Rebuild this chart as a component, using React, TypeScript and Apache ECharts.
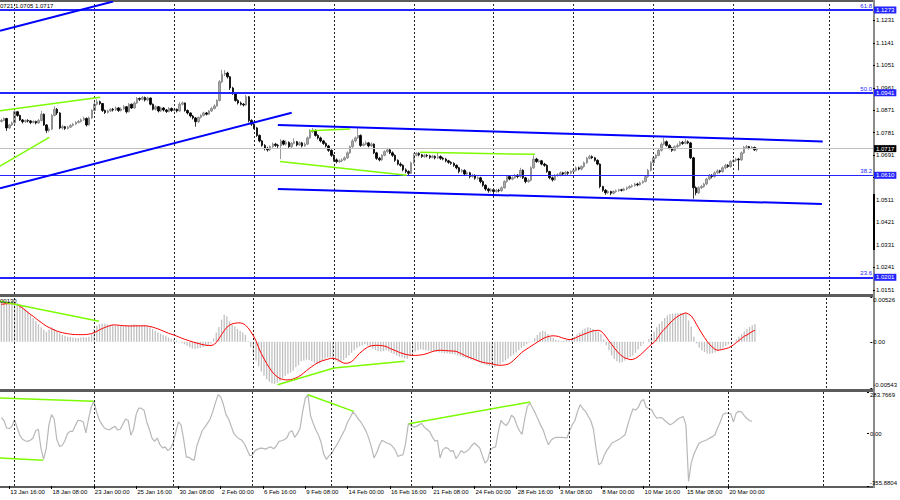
import React, { useEffect, useRef } from "react";
import * as echarts from "echarts";

// ---------- time axis (H4 bars) ----------
const FIRST_BAR_UTC = Date.UTC(2023, 0, 13, 4, 0);
const BAR_HOURS = 4;
const CATEGORY_COUNT = 328;
const timeTickLabels = [
  "13 Jan 16:00", "18 Jan 08:00", "23 Jan 00:00", "25 Jan 16:00", "30 Jan 08:00",
  "2 Feb 00:00", "6 Feb 16:00", "9 Feb 08:00", "14 Feb 00:00", "16 Feb 16:00",
  "21 Feb 08:00", "24 Feb 00:00", "28 Feb 16:00", "3 Mar 08:00", "8 Mar 00:00",
  "10 Mar 16:00", "15 Mar 08:00", "20 Mar 00:00",
];
const gridLineBars = [5, 35, 65, 95, 125, 155, 185, 215, 245, 275, 311];

// ---------- price, pips above 1.0000 ----------
const firstOpenPips = 826;
const closePips = [
  830, 838, 800, 812, 820, 865, 850, 832, 825, 830,
  828, 822, 826, 820, 830, 855, 812, 790, 795, 850,
  875, 860, 800, 805, 798, 803, 810, 815, 822, 826,
  832, 838, 812, 840, 870, 895, 905, 898, 870, 862,
  868, 875, 872, 880, 870, 876, 885, 865, 895, 880,
  900, 918, 915, 922, 912, 920, 895, 875, 885, 868,
  880, 872, 866, 878, 870, 875, 868, 895, 900, 870,
  860, 848, 840, 825, 842, 850, 860, 855, 868, 878,
  888, 910, 985, 1015, 1020, 1005, 960, 940, 910, 900,
  895, 892, 925, 830, 815, 800, 770, 748, 730, 718,
  712, 725, 735, 730, 728, 748, 735, 742, 725, 738,
  745, 732, 740, 728, 735, 760, 785, 790, 770, 760,
  748, 738, 728, 710, 690, 672, 665, 668, 672, 680,
  700, 725, 748, 760, 770, 730, 735, 740, 728, 735,
  700, 678, 672, 690, 705, 712, 700, 690, 670, 655,
  650, 632, 625, 618, 660, 690, 698, 692, 685, 690,
  688, 682, 686, 680, 685, 678, 675, 668, 662, 658,
  650, 640, 625, 630, 615, 620, 605, 610, 598, 600,
  585, 570, 555, 548, 552, 545, 550, 548, 560, 585,
  605, 595, 600, 610, 605, 630, 600, 585, 590, 640,
  675, 665, 668, 655, 650, 625, 600, 592, 610, 612,
  620, 615, 622, 618, 625, 630, 640, 635, 645, 660,
  678, 685, 680, 670, 655, 565, 550, 540, 545, 538,
  545, 548, 552, 550, 555, 560, 565, 568, 575, 572,
  580, 585, 605, 630, 660, 680, 690, 710, 735, 745,
  730, 720, 710, 725, 730, 742, 738, 745, 740, 680,
  560, 540, 560, 565, 575, 595, 610, 605, 620, 628,
  625, 640, 650, 645, 665, 670, 675, 672, 700, 722,
  725, 720, 722, 712, 717,
];
const highPips = [
  836, 842, 840, 816, 825, 880, 868, 853, 836, 834,
  835, 832, 830, 829, 836, 868, 858, 815, 802, 856,
  887, 880, 863, 812, 808, 808, 815, 820, 828, 832,
  838, 845, 842, 846, 875, 905, 915, 910, 900, 874,
  874, 880, 880, 886, 884, 882, 892, 888, 900, 898,
  906, 924, 922, 928, 926, 925, 922, 898, 890, 888,
  885, 884, 876, 884, 882, 880, 878, 904, 906, 902,
  874, 862, 852, 844, 846, 855, 865, 864, 872, 884,
  895, 915, 992, 1033, 1032, 1025, 1008, 965, 944, 915,
  906, 900, 932, 928, 835, 820, 804, 774, 752, 735,
  724, 730, 742, 740, 736, 755, 752, 750, 746, 744,
  758, 748, 746, 744, 742, 766, 795, 800, 794, 775,
  765, 752, 742, 732, 714, 694, 678, 674, 678, 686,
  706, 730, 755, 766, 802, 774, 742, 748, 744, 742,
  738, 704, 684, 695, 710, 720, 716, 706, 694, 674,
  662, 654, 638, 630, 665, 698, 703, 702, 696, 696,
  695, 692, 692, 690, 702, 690, 684, 680, 672, 666,
  662, 654, 644, 636, 634, 626, 624, 616, 614, 606,
  604, 590, 574, 560, 558, 556, 556, 556, 566, 590,
  612, 610, 606, 616, 615, 640, 634, 604, 596, 646,
  690, 680, 675, 672, 660, 654, 628, 605, 615, 618,
  626, 624, 628, 626, 630, 636, 646, 645, 650, 665,
  684, 692, 690, 684, 674, 658, 568, 555, 550, 548,
  550, 553, 556, 556, 560, 565, 570, 574, 580, 580,
  585, 590, 610, 636, 666, 686, 696, 716, 742, 760,
  750, 735, 724, 730, 738, 748, 748, 755, 750, 744,
  684, 566, 566, 572, 580, 600, 616, 615, 626, 634,
  632, 646, 656, 655, 670, 676, 680, 680, 706, 728,
  732, 728, 727, 725, 721,
];
const lowPips = [
  822, 827, 788, 796, 808, 818, 845, 828, 818, 820,
  822, 815, 818, 814, 817, 826, 808, 780, 783, 792,
  846, 852, 795, 794, 792, 794, 800, 806, 812, 818,
  822, 828, 806, 810, 836, 866, 890, 892, 864, 856,
  858, 864, 866, 868, 864, 866, 872, 858, 862, 876,
  877, 896, 908, 910, 906, 908, 890, 870, 870, 862,
  864, 866, 860, 862, 864, 866, 862, 865, 890, 865,
  854, 842, 834, 805, 820, 838, 846, 850, 852, 864,
  874, 885, 906, 980, 1008, 998, 952, 932, 905, 894,
  890, 886, 888, 822, 808, 795, 764, 742, 725, 710,
  705, 708, 720, 724, 720, 675, 730, 730, 720, 720,
  734, 726, 728, 722, 724, 732, 756, 780, 765, 754,
  742, 732, 722, 704, 684, 665, 658, 660, 662, 668,
  676, 696, 720, 742, 756, 724, 726, 730, 722, 724,
  695, 672, 666, 668, 686, 700, 695, 684, 664, 650,
  644, 626, 618, 611, 615, 655, 686, 686, 680, 680,
  682, 676, 678, 674, 676, 672, 670, 662, 656, 652,
  644, 634, 618, 620, 608, 610, 598, 600, 592, 592,
  578, 564, 548, 540, 542, 538, 540, 542, 544, 556,
  580, 590, 590, 596, 598, 600, 595, 578, 580, 586,
  636, 660, 660, 650, 644, 620, 594, 585, 588, 604,
  606, 610, 610, 612, 614, 620, 626, 630, 630, 640,
  656, 674, 675, 665, 650, 558, 544, 532, 535, 530,
  534, 540, 544, 545, 546, 550, 556, 560, 564, 566,
  568, 576, 582, 600, 626, 655, 676, 686, 705, 730,
  725, 714, 704, 706, 720, 726, 732, 734, 735, 675,
  516, 530, 535, 555, 560, 570, 590, 598, 600, 615,
  618, 620, 634, 640, 640, 660, 664, 630, 668, 696,
  718, 714, 716, 708, 705,
];

const mainTicks = [1.0151, 1.0241, 1.0331, 1.0421, 1.0511, 1.0601, 1.0691, 1.0781, 1.0871, 1.0961, 1.1051, 1.1141, 1.1231];
const mainTickLabels = [1.0151, 1.0241, 1.0331, 1.0421, 1.0511, 1.0691, 1.0781, 1.0871, 1.0961, 1.1051, 1.1141, 1.1231];
const mainMin = 1.0134;
const mainMax = 1.1305;
const fibLevels = [1.1273, 1.0941, 1.061, 1.0201];
const fibNames = ["61.8", "50.0", "38.2", "23.6"];
const lastPrice = 1.0717;
const headerText = "0721 1.0705 1.0717";

// trend lines: [bar index, price]
const blueTrendLines = [
  [[-0.5, 1.119], [42, 1.1307]],
  [[-0.5, 1.0558], [109.1, 1.0861]],
  [[103.9, 1.0812], [308.6, 1.0746]],
  [[103.9, 1.0555], [308.3, 1.0495]],
];
const greenPriceLines = [
  [[-0.5, 1.0869], [37.1, 1.0923]],
  [[-0.5, 1.0647], [18.0, 1.0762]],
  [[116, 1.0789], [131, 1.0796]],
  [[104.7, 1.0665], [152.3, 1.061]],
  [[157.3, 1.0702], [200.5, 1.0694]],
];

// ---------- MACD (x 1e-5) ----------
const macdHeader = "00130";
const macdMin = -0.00543;
const macdMax = 0.00526;
const macdHist = [
  470, 475, 478, 480, 478, 472, 455, 440, 420, 390,
  360, 320, 280, 240, 205, 170, 140, 118, 145, 172,
  150, 120, 100, 80, 70, 60, 55, 50, 45, 45,
  50, 55, 50, 60, 90, 150, 190, 210, 215, 212,
  205, 200, 195, 190, 188, 185, 190, 195, 190, 200,
  205, 200, 195, 190, 200, 185, 170, 150, 130, 110,
  95, 80, 70, 50, 35, 25, 15, 5, -10, -30,
  -50, -65, -80, -85, -80, -70, -60, -50, -40, -20,
  40, 110, 175, 260, 318, 300, 240, 200, 180, 150,
  130, 110, 80, 10, -60, -140, -220, -290, -350, -400,
  -440, -470, -490, -495, -480, -460, -430, -400, -380, -360,
  -340, -300, -277, -230, -220, -210, -215, -225, -245, -260,
  -255, -230, -200, -185, -185, -200, -220, -235, -230, -215,
  -190, -160, -130, -100, -75, -55, -40, -30, -45, -60,
  -80, -95, -110, -115, -110, -100, -110, -130, -145, -160,
  -175, -185, -195, -200, -170, -140, -115, -100, -90, -95,
  -100, -105, -110, -115, -120, -125, -130, -135, -135, -140,
  -145, -150, -160, -170, -180, -190, -200, -210, -220, -230,
  -240, -255, -265, -275, -285, -292, -297, -280, -260, -240,
  -220, -195, -170, -150, -125, -100, -70, -50, -30, -10,
  5, 40, 80, 115, 130, 120, 90, 60, 40, 25,
  15, 10, 15, 20, 30, 40, 60, 85, 110, 135,
  155, 170, 165, 150, 135, 120, 90, 30, -40, -100,
  -160, -200, -230, -245, -240, -220, -200, -180, -160, -130,
  -90, -50, -20, 0, 30, 70, 120, 170, 210, 240,
  280, 310, 325, 330, 333, 335, 338, 338, 335, 250,
  180, 60, -20, -70, -100, -120, -135, -140, -135, -125,
  -110, -90, -70, -50, -30, -10, 5, 30, 60, 90,
  120, 150, 175, 195, 210,
];
const macdSignal = [
  440, 444, 447, 448, 448, 446, 435, 417, 395, 370,
  345, 322, 300, 275, 250, 228, 205, 183, 168, 152,
  138, 125, 115, 107, 100, 95, 90, 86, 85, 84,
  84, 84, 85, 90, 97, 108, 122, 140, 155, 168,
  180, 190, 198, 198, 195, 192, 189, 187, 186, 186,
  186, 187, 187, 187, 188, 186, 180, 172, 162, 152,
  140, 126, 113, 100, 90, 80, 68, 55, 42, 30,
  20, 10, 0, -10, -18, -26, -34, -40, -44, -45,
  -35, -10, 35, 85, 130, 170, 195, 210, 218, 222,
  222, 215, 194, 165, 120, 70, 10, -72, -140, -200,
  -255, -305, -350, -385, -412, -432, -442, -447, -448, -445,
  -438, -425, -410, -390, -365, -340, -315, -292, -270, -250,
  -235, -222, -214, -205, -196, -194, -200, -215, -235, -250,
  -253, -248, -233, -205, -170, -135, -110, -85, -65, -50,
  -45, -42, -42, -44, -48, -55, -70, -85, -98, -110,
  -125, -135, -145, -152, -157, -160, -160, -158, -155, -150,
  -142, -132, -120, -110, -103, -100, -100, -102, -105, -107,
  -109, -110, -120, -135, -150, -165, -178, -190, -202, -215,
  -228, -238, -245, -251, -253, -260, -268, -274, -276, -275,
  -270, -262, -245, -220, -190, -160, -128, -105, -85, -65,
  -45, -25, -5, 15, 35, 50, 60, 68, 70, 68,
  62, 50, 40, 32, 25, 28, 40, 55, 70, 82,
  95, 107, 118, 128, 133, 135, 125, 95, 55, 10,
  -30, -72, -110, -145, -170, -190, -200, -210, -207, -195,
  -175, -150, -120, -90, -60, -30, -8, 30, 75, 120,
  150, 185, 220, 250, 278, 300, 318, 330, 340, 325,
  305, 260, 205, 150, 100, 50, 5, -35, -62, -90,
  -100, -95, -88, -80, -72, -55, -35, -10, 15, 40,
  65, 80, 100, 120, 135,
];
const greenMacdLines = [
  [[-0.5, 476], [36.8, 241]],
  [[104.1, -504], [125.4, -308], [152.0, -229]],
];

// ---------- CCI ----------
const cciMin = -355.8804;
const cciMax = 283.7669;
const cciValues = [
  110, 90, 39, 35, 50, 96, 40, -10, -38, -48,
  -52, -45, -29, 20, 30, -100, -175, -100, 60, 130,
  100, -40, -86, -80, -50, 0, 16, 16, 55, 91,
  90, 80, 5, 100, 180, 221, 150, 96, 65, 39,
  30, 27, 40, 50, 25, 30, 65, 100, 90, -10,
  30, 130, 175, 172, 160, 80, 30, -30, -52, -30,
  -75, -97, -90, -115, -100, -63, 10, 80, 60, -40,
  -160, -160, -175, -180, -80, -30, 20, 45, 70, 100,
  150, 210, 266, 250, 200, 130, 100, 50, 0, -20,
  -35, -45, -70, -110, -150, -145, -115, -105, -98, -100,
  -105, -95, -90, -102, -85, -52, -48, -41, -30, 10,
  20, -25, 0, 35, 150, 240, 266, 120, 70, 25,
  -10, -60, -140, -175, -150, -135, -100, -75, -40, -5,
  30, 80, 110, 148, 130, 100, 80, 50, 16, -30,
  -90, -165, -130, -80, -45, -55, -65, -70, -86, -110,
  -154, -148, -143, -60, 70, 55, 45, 50, 60, 70,
  45, 30, 15, -20, -50, -45, -165, -110, -95, -100,
  -120, -115, -170, -145, -115, -130, -120, -105, -80, -63,
  -80, -97, -150, -200, -180, -110, -95, -90, 10, 90,
  70, 55, 80, 125, 110, 60, 20, -5, 100, 185,
  209, 175, 140, 100, 60, 25, -30, -75, -45, -29,
  -25, -25, -25, -27, -29, 20, 61, 90, 150, 198,
  170, 152, 120, 90, 30, -100, -211, -200, -150, -115,
  -90, -63, -55, -45, -35, -20, -7, 60, 120, 170,
  160, 180, 220, 232, 180, 170, 164, 130, 105, 110,
  108, 90, 75, 61, 70, 85, 100, 110, 116, 60,
  -324, -200, -140, -100, -65, -55, -48, -41, -30, -20,
  -7, 40, 80, 130, 141, 138, 135, 80, 140, 152,
  148, 125, 105, 90, 84,
];
const greenCciLines = [
  [[-0.5, 243], [34.9, 220]],
  [[-0.5, -165], [15.8, -181]],
  [[116, 265], [133.3, 152]],
  [[154.2, 68], [200.1, 216]],
];

// ---------- helpers ----------
const MONTHS = ["Jan", "Feb", "Mar", "Apr", "May", "Jun", "Jul", "Aug", "Sep", "Oct", "Nov", "Dec"];
function buildCategories(): string[] {
  const out: string[] = [];
  let t = FIRST_BAR_UTC;
  while (out.length < CATEGORY_COUNT) {
    const d = new Date(t);
    const wd = d.getUTCDay();
    if (wd !== 0 && wd !== 6) {
      out.push(`${d.getUTCDate()} ${MONTHS[d.getUTCMonth()]} ${String(d.getUTCHours()).padStart(2, "0")}:00`);
    }
    t += BAR_HOURS * 3600 * 1000;
  }
  return out;
}
const toPrice = (p: number) => +(1 + p / 10000).toFixed(4);
const E5 = (v: number) => v / 100000;

const FONT = "Liberation Sans, Arial, sans-serif";
const BLUE = "#0000ff";
const FIB_BLUE = "#2424ff";
const GREEN = "#7cfc00";
const fibWidths = [2, 2, 1, 2];

function buildOption() {
  const cats = buildCategories();
  const tickSet = new Set(timeTickLabels);
  const showTick = (_i: number, v: string) => tickSet.has(v);

  const grids = [
    { left: 0, right: 27, top: 2, height: 292 },
    { left: 0, right: 27, top: 297, height: 91 },
    { left: 0, right: 27, top: 392, height: 94 },
  ];

  const catAxis = (gi: number, labels: boolean) => ({
    type: "category",
    gridIndex: gi,
    data: cats,
    boundaryGap: true,
    position: "bottom",
    axisLine: { show: false, onZero: false },
    splitLine: { show: false },
    axisTick: labels
      ? { show: true, interval: showTick, alignWithLabel: true, length: 3, lineStyle: { color: "#000" } }
      : { show: false },
    axisLabel: labels
      ? { show: true, interval: showTick, align: "left", fontSize: 6, color: "#000", fontFamily: FONT, margin: 3, padding: [0, 0, 0, 1] }
      : { show: false },
  });
  const valAxis = (gi: number) => ({
    type: "value", gridIndex: gi, min: -0.5, max: CATEGORY_COUNT - 0.5, show: false,
    axisLine: { show: false, onZero: false }, axisTick: { show: false }, axisLabel: { show: false }, splitLine: { show: false },
  });

  const labelStyle = { fontSize: 6, color: "#000", fontFamily: FONT, margin: 3 };
  const tickStyle = { length: 2, lineStyle: { color: "#000" } };

  const macdTicks = [macdMin, 0, macdMax];
  const cciTicks = [cciMin, 0, cciMax];

  const yAxis = [
    {
      type: "value", gridIndex: 0, position: "right", min: mainMin, max: mainMax,
      axisLine: { show: false, onZero: false }, splitLine: { show: false },
      axisTick: { show: true, customValues: mainTicks, ...tickStyle },
      axisLabel: { ...labelStyle, customValues: mainTickLabels, formatter: (v: number) => v.toFixed(4) },
    },
    {
      type: "value", gridIndex: 1, position: "right", min: macdMin, max: macdMax,
      axisLine: { show: false, onZero: false }, splitLine: { show: false },
      axisTick: { show: true, customValues: macdTicks, ...tickStyle },
      axisLabel: {
        ...labelStyle, customValues: macdTicks,
        verticalAlignMinLabel: "bottom", verticalAlignMaxLabel: "top",
        formatter: (v: number) => (Math.abs(v) < 1e-9 ? "0.00" : v.toFixed(5)),
      },
    },
    {
      type: "value", gridIndex: 2, position: "right", min: cciMin, max: cciMax,
      axisLine: { show: false, onZero: false }, splitLine: { show: false },
      axisTick: { show: true, customValues: cciTicks, ...tickStyle },
      axisLabel: {
        ...labelStyle, customValues: cciTicks,
        verticalAlignMinLabel: "bottom", verticalAlignMaxLabel: "top",
        formatter: (v: number) => (Math.abs(v) < 1e-9 ? "0.00" : v.toFixed(4)),
      },
    },
  ];

  const vGrid = gridLineBars.map((b) => ({
    xAxis: b,
    lineStyle: { color: "#222", width: 1, type: [2, 2] },
    label: { show: false },
  }));

  const boxLabel = (text: string, bg: string) => ({
    show: true, position: "end", formatter: text, color: "#fff", backgroundColor: bg,
    padding: [1, 2, 0, 2], fontSize: 6, fontFamily: FONT, distance: 1,
  });

  const mainMarks: any[] = [...vGrid];
  fibLevels.forEach((lv, k) => {
    mainMarks.push({
      yAxis: lv, lineStyle: { color: FIB_BLUE, width: fibWidths[k], type: "solid" },
      label: boxLabel(lv.toFixed(4), FIB_BLUE),
    });
    mainMarks.push({
      yAxis: lv, lineStyle: { color: "transparent", width: 0 },
      label: { show: true, position: "insideEndTop", formatter: fibNames[k], color: FIB_BLUE, fontSize: 6, fontFamily: FONT, distance: 1 },
    });
  });
  mainMarks.push({
    yAxis: lastPrice, lineStyle: { color: "#c0c0c0", width: 1, type: "solid" },
    label: boxLabel(lastPrice.toFixed(4), "#000"),
  });

  const candleData = closePips.map((c, i) => {
    const o = i === 0 ? firstOpenPips : closePips[i - 1];
    return [toPrice(o), toPrice(c), toPrice(lowPips[i]), toPrice(highPips[i])];
  });

  const lineSeries = (pts: number[][], xi: number, yi: number, color: string, width: number, conv = (v: number) => v) => ({
    type: "line", xAxisIndex: xi, yAxisIndex: yi, data: pts.map(([x, y]) => [x, conv(y)]),
    symbol: "none", silent: true, z: 6, clip: true,
    lineStyle: { color, width },
  });

  const series: any[] = [
    {
      type: "candlestick", xAxisIndex: 0, yAxisIndex: 0, data: candleData, barWidth: 2, silent: true, z: 3,
      itemStyle: { color: "#a8a8a8", color0: "#000", borderColor: "#808080", borderColor0: "#000", borderWidth: 0.8 },
      markLine: { symbol: ["none", "none"], silent: true, animation: false, precision: 4, data: mainMarks },
    },
    ...blueTrendLines.map((pts) => lineSeries(pts, 3, 0, BLUE, 2)),
    ...greenPriceLines.map((pts) => lineSeries(pts, 3, 0, GREEN, 1.5)),
    {
      type: "bar", xAxisIndex: 1, yAxisIndex: 1, data: macdHist.map(E5), barWidth: 1.3, silent: true,
      itemStyle: { color: "#c0c0c0" },
      markLine: { symbol: ["none", "none"], silent: true, animation: false, data: vGrid },
    },
    {
      type: "line", xAxisIndex: 1, yAxisIndex: 1, data: macdSignal.map(E5), symbol: "none", silent: true, z: 5,
      lineStyle: { color: "#ff0000", width: 1 },
    },
    ...greenMacdLines.map((pts) => lineSeries(pts, 4, 1, GREEN, 1.5, E5)),
    {
      type: "line", xAxisIndex: 2, yAxisIndex: 2, data: cciValues, symbol: "none", silent: true, z: 4,
      lineStyle: { color: "#b8b8b8", width: 1.2 },
      markLine: { symbol: ["none", "none"], silent: true, animation: false, data: vGrid },
    },
    ...greenCciLines.map((pts) => lineSeries(pts, 5, 2, GREEN, 1.5)),
  ];

  const frame = "#5c5c5c";
  const graphic = [
    { type: "rect", shape: { x: 0, y: 0, width: 875, height: 2 }, style: { fill: frame }, silent: true },
    { type: "rect", shape: { x: 0, y: 294, width: 875, height: 3 }, style: { fill: frame }, silent: true },
    { type: "rect", shape: { x: 0, y: 389, width: 875, height: 3 }, style: { fill: frame }, silent: true },
    { type: "rect", shape: { x: 0, y: 486, width: 875, height: 2 }, style: { fill: frame }, silent: true },
    { type: "rect", shape: { x: 873, y: 0, width: 2, height: 488 }, style: { fill: "#8a8a8a" }, silent: true },
    { type: "rect", shape: { x: 873, y: 194, width: 2, height: 56 }, style: { fill: "#000" }, silent: true },
    {
      type: "text", x: 0, y: 3, silent: true, z: 10,
      style: { text: headerText, fill: "#000", fontSize: 6, fontFamily: FONT, verticalAlign: "top" },
    },
    {
      type: "text", x: 0, y: 298, silent: true, z: 10,
      style: { text: macdHeader, fill: "#000", fontSize: 6, fontFamily: FONT, verticalAlign: "top" },
    },
  ];

  return {
    animation: false,
    backgroundColor: "#ffffff",
    textStyle: { fontFamily: FONT },
    grid: grids,
    xAxis: [catAxis(0, false), catAxis(1, false), catAxis(2, true), valAxis(0), valAxis(1), valAxis(2)],
    yAxis,
    series,
    graphic,
  };
}

export default function App() {
  const ref = useRef<HTMLDivElement>(null);
  useEffect(() => {
    if (!ref.current) return;
    const chart = echarts.init(ref.current, undefined, { renderer: "svg" });
    chart.setOption(buildOption() as any);
    return () => chart.dispose();
  }, []);
  return (
    <div
      ref={ref}
      style={{ position: "absolute", left: 0, top: 0, width: 900, height: 500, background: "#fff" }}
    />
  );
}
